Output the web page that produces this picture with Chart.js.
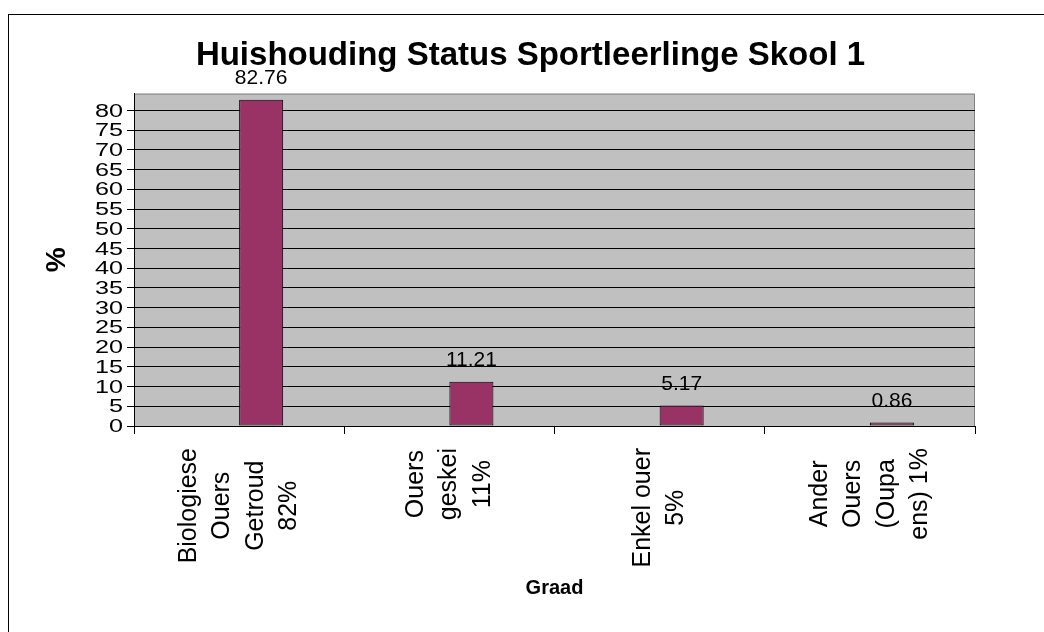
<!DOCTYPE html>
<html lang="af">
<head>
    <meta charset="UTF-8">
    <title>Huishouding Status Sportleerlinge Skool 1</title>
    <script src="https://cdn.jsdelivr.net/npm/chart.js"></script>
    <style>
        body {
            margin: 0;
            background: #fff;
            overflow: hidden;
        }
        #frame {
            position: absolute;
            left: 8px;
            top: 14px;
            border-left: 1px solid #000;
            border-top: 1px solid #000;
            width: 1060px;
            height: 640px;
        }
        canvas {
            display: block;
        }
    </style>
</head>
<body>
    <div id="frame">
        <canvas id="chart" width="1043" height="640"></canvas>
    </div>

    <script>
        // Household status of sport learners, school 1 (percent)
        const categories = [
            ['Biologiese', 'Ouers', 'Getroud', '82%'],
            ['Ouers', 'geskei', '11%'],
            ['Enkel ouer', '5%'],
            ['Ander', 'Ouers', '(Oupa', 'ens) 1%']
        ];
        const percentages = [82.76, 11.21, 5.17, 0.86];
        // empty first series pushes the real bars right of each category centre
        const emptySeries = [null, null, null, null];

        const FONT = "'Liberation Sans', Arial, sans-serif";
        Chart.defaults.font.family = FONT;
        Chart.defaults.color = '#000';

        // grey plot background with the thin grey frame on top and right
        const plotBackground = {
            id: 'plotBackground',
            beforeDraw(chart) {
                const { ctx, chartArea: a } = chart;
                ctx.save();
                ctx.fillStyle = '#c0c0c0';
                ctx.fillRect(a.left, a.top, a.right - a.left, a.bottom - a.top);
                ctx.strokeStyle = '#808080';
                ctx.lineWidth = 1;
                ctx.beginPath();
                ctx.moveTo(a.left, a.top + 0.5);
                ctx.lineTo(a.right - 0.5, a.top + 0.5);
                ctx.lineTo(a.right - 0.5, a.bottom);
                ctx.stroke();
                ctx.restore();
            }
        };

        // value above every bar
        const valueLabels = {
            id: 'valueLabels',
            afterDatasetsDraw(chart) {
                const { ctx } = chart;
                const meta = chart.getDatasetMeta(1);
                ctx.save();
                ctx.font = '21px ' + FONT;
                ctx.fillStyle = '#000';
                ctx.textAlign = 'center';
                ctx.textBaseline = 'alphabetic';
                meta.data.forEach((bar, i) => {
                    ctx.fillText(percentages[i].toFixed(2), bar.x, bar.y - 16);
                });
                ctx.restore();
            }
        };

        // y tick numbers, drawn a bit wide like the old spreadsheet output
        const yTickLabels = {
            id: 'yTickLabels',
            afterDraw(chart) {
                const { ctx } = chart;
                const y = chart.scales.y;
                const right = y.right - 7 - 4;
                ctx.save();
                ctx.font = '18px ' + FONT;
                ctx.fillStyle = '#000';
                ctx.textAlign = 'right';
                ctx.textBaseline = 'middle';
                y.ticks.forEach(t => {
                    const py = y.getPixelForValue(t.value);
                    ctx.save();
                    ctx.translate(right, py + 1);
                    ctx.scale(1.4, 1);
                    ctx.fillText(String(t.value), 0, 0);
                    ctx.restore();
                });
                ctx.restore();
            }
        };

        // rotated category names, lines centred on each other
        const categoryLabels = {
            id: 'categoryLabels',
            afterDraw(chart) {
                const { ctx } = chart;
                const x = chart.scales.x;
                const lineH = 33.5;
                ctx.save();
                ctx.font = '25px ' + FONT;
                ctx.fillStyle = '#000';
                ctx.textAlign = 'center';
                ctx.textBaseline = 'middle';
                categories.forEach((lines, i) => {
                    const px = x.getPixelForTick(i);
                    const w = Math.max(...lines.map(l => ctx.measureText(l).width));
                    const cy = x.top + 22 + w / 2;
                    ctx.save();
                    ctx.translate(px, cy);
                    ctx.rotate(-Math.PI / 2);
                    lines.forEach((line, j) => {
                        ctx.fillText(line, 0, (j - (lines.length - 1) / 2) * lineH);
                    });
                    ctx.restore();
                });
                ctx.restore();
            }
        };

        new Chart(document.getElementById('chart'), {
            type: 'bar',
            data: {
                labels: categories.map(c => c.join(' ')),
                datasets: [
                    {
                        data: emptySeries
                    },
                    {
                        data: percentages,
                        backgroundColor: '#993366',
                        borderColor: '#000',
                        borderWidth: 1,
                        borderSkipped: false
                    }
                ]
            },
            options: {
                responsive: false,
                devicePixelRatio: 1,
                animation: false,
                categoryPercentage: 0.419,
                barPercentage: 1,
                layout: {
                    padding: 0
                },
                plugins: {
                    legend: { display: false },
                    tooltip: { enabled: false },
                    title: {
                        display: true,
                        text: 'Huishouding Status Sportleerlinge Skool 1',
                        font: { size: 33, weight: 'bold' },
                        color: '#000',
                        padding: { top: 21, bottom: 18 }
                    }
                },
                scales: {
                    x: {
                        grid: {
                            offset: true,
                            drawOnChartArea: false,
                            drawTicks: true,
                            tickLength: 8,
                            color: '#000'
                        },
                        border: { color: '#000' },
                        ticks: { display: false },
                        title: {
                            display: true,
                            text: 'Graad',
                            font: { size: 20, weight: 'bold' },
                            color: '#000',
                            padding: { top: 0, bottom: 55 }
                        },
                        afterFit(scale) {
                            scale.height = 229;
                        }
                    },
                    y: {
                        min: 0,
                        max: 84.3,
                        grid: {
                            color: '#000',
                            tickLength: 7
                        },
                        border: { color: '#000' },
                        ticks: {
                            stepSize: 5,
                            autoSkip: false,
                            includeBounds: false,
                            padding: 4,
                            font: { size: 18 },
                            color: 'transparent'
                        },
                        title: {
                            display: true,
                            text: '%',
                            font: { size: 28, weight: 'bold' },
                            color: '#000',
                            padding: { top: 31, bottom: 0 }
                        },
                        afterFit(scale) {
                            scale.width = 125;
                        }
                    },
                    // blank strip on the right so the title stays centred on the whole frame
                    rightGap: {
                        position: 'right',
                        grid: { drawOnChartArea: false, drawTicks: false },
                        border: { display: false },
                        ticks: { display: false },
                        afterFit(scale) {
                            scale.width = 77;
                        }
                    }
                }
            },
            plugins: [plotBackground, valueLabels, yTickLabels, categoryLabels]
        });
    </script>
</body>
</html>
